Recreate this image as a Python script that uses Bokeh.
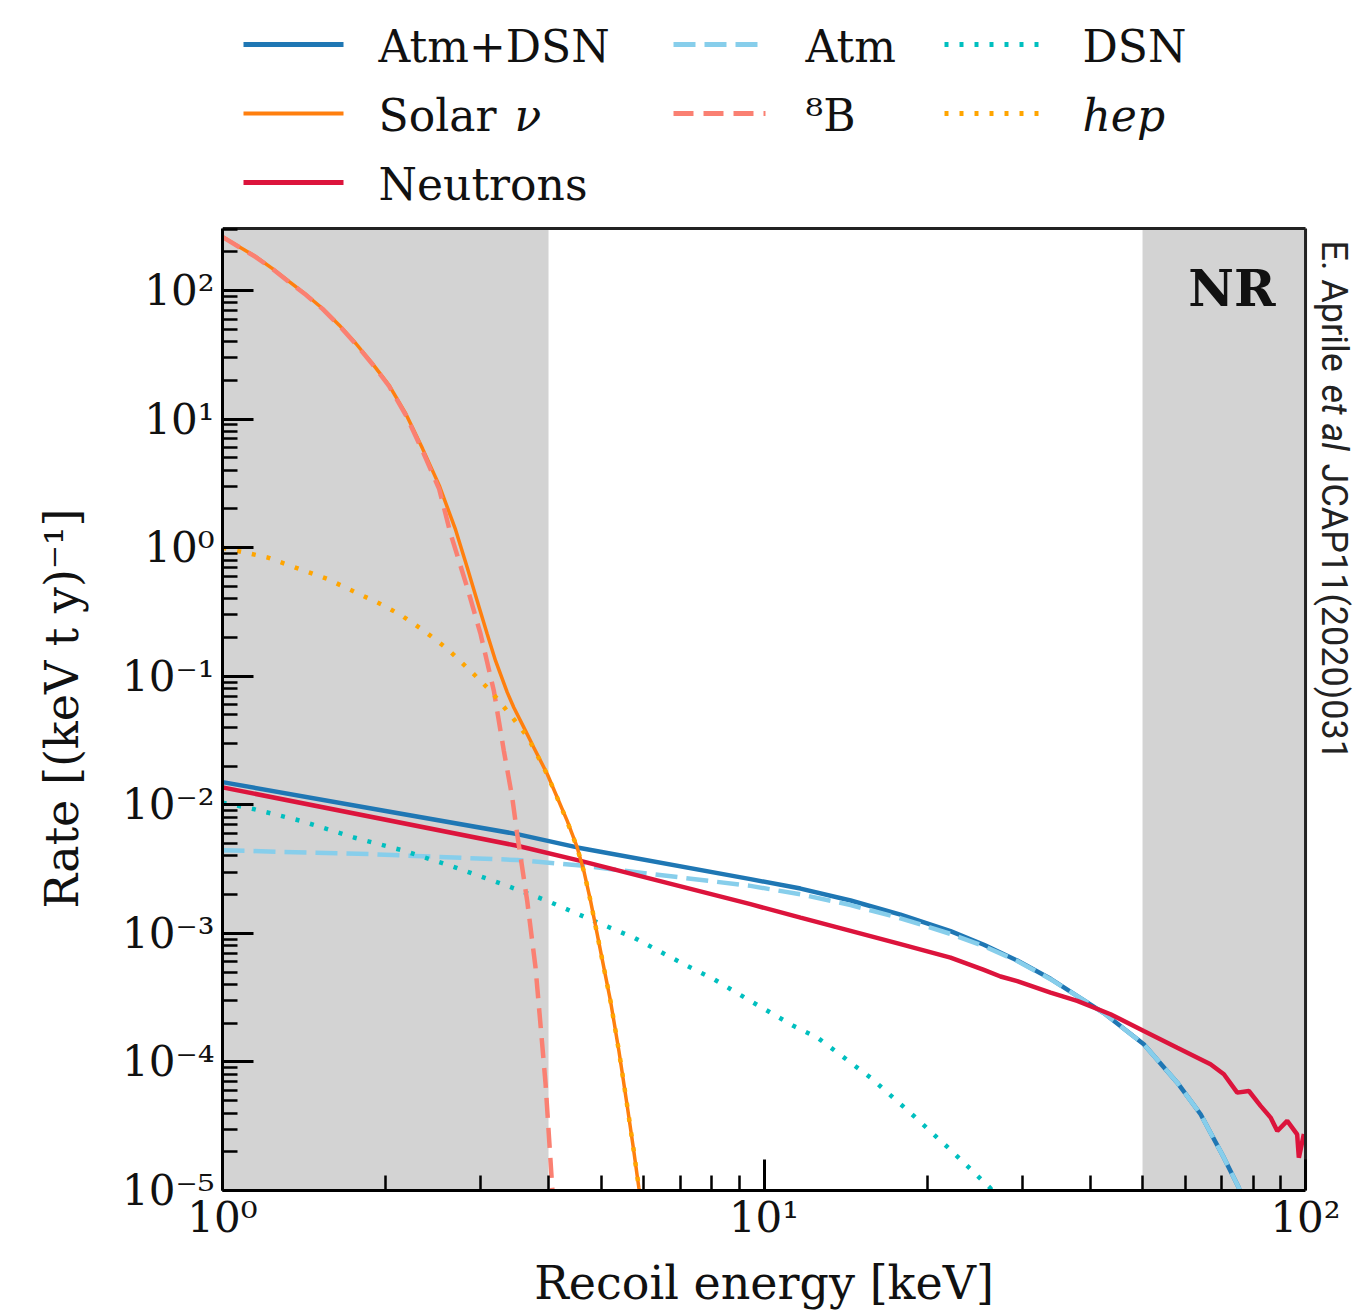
from bokeh.plotting import figure
from bokeh.models import Range1d, FixedTicker, CustomJSTickFormatter, Label, BoxAnnotation
from bokeh.layouts import column
from bokeh.embed import file_html
from bokeh.resources import INLINE
from bokeh.core.properties import value
import math

SERIF = "DejaVu Serif"
SANS = "Roboto"

# ---------------- data ----------------
E_solar = [1.0, 1.073, 1.152, 1.237, 1.328, 1.425, 1.530, 1.643, 1.763, 1.892, 2.031, 2.180,
           2.341, 2.513, 2.694, 2.830, 2.953, 3.082, 3.193, 3.356, 3.451, 3.601, 3.757, 3.978,
           4.151, 4.331, 4.519, 4.648, 4.783, 4.920, 5.061, 5.206, 5.395, 5.590, 5.741, 5.873, 5.92]
R_solar = [262, 219, 183, 148, 117, 93.1, 72.4, 53.7, 38.7, 27.0, 18.3, 11.0,
           5.89, 3.05, 1.38, 0.703, 0.387, 0.213, 0.132, 0.0748, 0.0571, 0.040, 0.0279, 0.01734,
           0.0114, 0.0075, 0.00466, 0.00306, 0.00179, 0.000986, 0.000542, 0.000298, 0.000122,
           4.55e-5, 2.1e-5, 1.05e-5, 8.7e-6]

E_8B = [1.0, 1.073, 1.152, 1.237, 1.328, 1.425, 1.530, 1.643, 1.763, 1.892, 2.031, 2.180,
        2.341, 2.513, 2.637, 2.830, 2.996, 3.170, 3.308, 3.428, 3.501, 3.653, 3.785, 3.894,
        3.950, 4.064, 4.08]
R_8B = [261, 218, 182, 147, 116, 92.5, 71.9, 53.2, 38.3, 26.7, 18.0, 10.75,
        5.66, 2.85, 1.285, 0.491, 0.213, 0.0771, 0.0263, 0.0114, 0.00591, 0.00179, 0.000542,
        0.000137, 6.75e-5, 1.05e-5, 8e-6]

E_hep = [1.0, 1.209, 1.561, 1.986, 2.132, 2.354, 2.601, 2.871, 3.125, 3.403, 3.653, 3.757,
         3.978, 4.151, 4.331, 4.519, 4.648, 4.783, 4.920, 5.061, 5.206, 5.395, 5.590, 5.741,
         5.873, 5.92]
R_hep = [1.0, 0.840, 0.571, 0.354, 0.30, 0.226, 0.163, 0.110, 0.077, 0.050, 0.034, 0.0274,
         0.0172, 0.0113, 0.0074, 0.00463, 0.00305, 0.00178, 0.00098, 0.00054, 0.000297,
         0.000122, 4.55e-5, 2.1e-5, 1.05e-5, 8.7e-6]

E_tot = [1.0, 2.0, 3.501, 4.519, 9.44, 11.68, 14.45, 17.87, 22.10, 25.47, 29.35, 33.82,
         42.42, 50.27, 57.97, 64.01, 70.67, 75.31, 76.5]
R_tot = [0.0150, 0.00896, 0.00591, 0.00466, 0.00264, 0.00223, 0.0018, 0.0014, 0.00104,
         0.000815, 0.000614, 0.000443, 0.00024, 0.000137, 6.9e-5, 3.92e-5, 1.80e-5, 1.05e-5, 8e-6]

E_atm = [1.0, 1.876, 3.501, 4.648, 9.44, 11.68, 14.45, 17.87, 22.10, 25.47, 29.35, 33.82,
         42.42, 50.27, 57.97, 64.01, 70.67, 75.31, 76.5]
R_atm = [0.00443, 0.00413, 0.00372, 0.00335, 0.00234, 0.00201, 0.00166, 0.00131, 0.00099,
         0.000795, 0.00061, 0.00044, 0.00024, 0.000137, 6.9e-5, 3.92e-5, 1.80e-5, 1.05e-5, 8e-6]

E_dsn = [1.0, 1.142, 1.393, 1.748, 2.162, 2.637, 3.356, 3.978, 4.850, 5.749, 7.112, 8.078,
         9.44, 11.35, 12.54, 15.73, 18.64, 22.10, 26.2, 26.74]
R_dsn = [0.0104, 0.00926, 0.00751, 0.00557, 0.00439, 0.00335, 0.00234, 0.00179, 0.00125,
         0.000927, 0.000575, 0.00044, 0.000298, 0.00019, 0.000155, 7.55e-5, 4.01e-5, 2.07e-5,
         1.04e-5, 8.9e-6]

E_neu = [1.0, 3.501, 4.583, 9.44, 11.68, 14.45, 17.87, 22.10, 25.47, 27.34, 29.35, 33.82,
         37.88, 43.64, 50.27, 57.97, 66.77, 70.67, 74.8, 78.6, 82.6, 86.2, 88.7, 92.5, 96.5,
         97.2, 99.3]
R_neu = [0.01365, 0.00480, 0.00366, 0.001686, 0.001327, 0.001045, 0.000824, 0.000648,
         0.00052, 0.000462, 0.000425, 0.000346, 0.000298, 0.000235, 0.000174, 0.000129,
         9.6e-5, 8.02e-5, 5.77e-5, 5.94e-5, 4.55e-5, 3.69e-5, 2.90e-5, 3.48e-5, 2.73e-5,
         1.80e-5, 2.75e-5]

shade_lo = [1, 50]
shade_hi = [4, 100]

X_MIN, X_MAX = 1, 100          # axes box
Y_MIN, Y_MAX = 1e-5, 303.7

x_major = [1, 10, 100]
x_minor = [2, 3, 4, 5, 6, 7, 8, 9, 20, 30, 40, 50, 60, 70, 80, 90]
y_major = [1e-5, 1e-4, 1e-3, 1e-2, 1e-1, 1, 10, 100]
y_minor = [k * 10.0 ** n for n in range(-5, 3) for k in range(2, 10)]

x_label = "Recoil energy [keV]"
y_label = "Rate [(keV t y)\u207b\u00b9]"
region_label = "NR"
attribution = [("E. Aprile", "normal"), ("et al", "italic"), ("JCAP11(2020)031", "normal")]

# series styles: (label, color, width, dash)
STY = {
    "tot": ("Atm+DSN", "#1f77b4", 4.5, "solid"),
    "atm": ("Atm", "#87ceeb", 4.5, "22 9"),
    "dsn": ("DSN", "#00bfbf", 4.5, "4 11"),
    "solar": ("Solar", "#ff7f0e", 3.5, "solid"),
    "b8": ("\u2078B", "#fa8072", 4.5, "20 10"),
    "hep": ("hep", "#ffa500", 4.5, "4 11"),
    "neu": ("Neutrons", "#dc143c", 4.5, "solid"),
}

W = 1356
LEFT = 222

# ---------------- main plot ----------------
# the frame runs on to the right page edge so the vertical credit line can be drawn inside it;
# the visible axes box (1..100) is drawn with bounded axes and two border segments.
p = figure(width=W, height=1024, x_axis_type="log", y_axis_type="log",
           x_range=Range1d(1, 124.2), y_range=Range1d(1e-5, 314.5),
           output_backend="svg", toolbar_location=None,
           min_border_left=LEFT, min_border_right=0, min_border_top=6, min_border_bottom=54)
p.grid.visible = False
p.outline_line_color = None

for lo, hi in zip(shade_lo, shade_hi):
    p.add_layout(BoxAnnotation(left=lo, right=hi, bottom=Y_MIN, top=Y_MAX, fill_color="#d3d3d3",
                               fill_alpha=1.0, line_color=None, level="underlay"))

def draw(key, E, R):
    lab, col, w, dash = STY[key]
    p.line(E, R, line_color=col, line_width=w, line_dash=dash)

draw("tot", E_tot, R_tot)
draw("atm", E_atm, R_atm)
draw("dsn", E_dsn, R_dsn)
draw("neu", E_neu, R_neu)
draw("solar", E_solar, R_solar)
draw("b8", E_8B, R_8B)
draw("hep", E_hep, R_hep)

# top and right borders of the axes box
p.segment(x0=[X_MIN, X_MAX], y0=[Y_MAX, Y_MIN], x1=[X_MAX, X_MAX], y1=[Y_MAX, Y_MAX],
          line_color="#222222", line_width=3)

fmt = CustomJSTickFormatter(code="""
const sup = {"0":"\u2070","1":"\u00b9","2":"\u00b2","3":"\u00b3","4":"\u2074","5":"\u2075",
             "6":"\u2076","7":"\u2077","8":"\u2078","9":"\u2079","-":"\u207b"};
const e = Math.round(Math.log10(tick));
return "10" + String(e).split("").map(c => sup[c]).join("");
""")

p.xaxis.ticker = FixedTicker(ticks=x_major, minor_ticks=x_minor)
p.yaxis.ticker = FixedTicker(ticks=y_major, minor_ticks=y_minor)
p.xaxis.bounds = (X_MIN, X_MAX)
p.yaxis.bounds = (Y_MIN, Y_MAX)
for ax in (p.xaxis[0], p.yaxis[0]):
    ax.formatter = fmt
    ax.axis_line_width = 3
    ax.axis_line_color = "black"
    ax.major_tick_in = 31
    ax.major_tick_out = 0
    ax.minor_tick_in = 15
    ax.minor_tick_out = 0
    ax.major_tick_line_width = 3
    ax.minor_tick_line_width = 2.5
    ax.major_tick_line_color = "black"
    ax.minor_tick_line_color = "black"
    ax.major_label_text_font = SERIF
    ax.major_label_text_font_size = "42px"
    ax.major_label_text_color = "#111111"
    ax.axis_label_text_font = SERIF
    ax.axis_label_text_font_size = "46px"
    ax.axis_label_text_font_style = "normal"
    ax.axis_label_text_color = "#111111"
p.yaxis.axis_label = y_label
p.xaxis.major_label_standoff = 2
p.yaxis.major_label_standoff = 8
p.yaxis.axis_label_standoff = 30

p.add_layout(Label(x=88.0, y=104.0, text=region_label, text_font=SERIF, text_font_style="bold",
                   text_font_size="50px", text_align="right", text_baseline="alphabetic",
                   text_color="#111111"))

# vertical credit line (inside the frame, right of x=100)
attr_x = 113.1
attr_y = [245.0, 18.56, 4.506]
for (txt, st), yy in zip(attribution, attr_y):
    p.text(x=[attr_x], y=[yy], text=[txt], angle=-math.pi / 2, text_font=value(SANS),
           text_font_size="36px", text_font_style=st, text_align="left",
           text_baseline="middle", text_color="#222222")

# ---------------- legend (above) ----------------
LH = 220
lg = figure(width=W, height=LH, x_range=Range1d(LEFT, W), y_range=Range1d(LH, 0),
            output_backend="svg", toolbar_location=None,
            min_border_left=LEFT, min_border_right=0, min_border_top=0, min_border_bottom=0,
            x_axis_location=None, y_axis_location=None)
lg.grid.visible = False
lg.outline_line_color = None

legend_rows = [["tot", "atm", "dsn"], ["solar", "b8", "hep"], ["neu"]]
col_line_x = [(243, 343), (673, 765), (944, 1040)]
col_text_x = [378, 805, 1082]
row_y = [44, 113, 182]
FS = "44px"

for r, keys in enumerate(legend_rows):
    for c, key in enumerate(keys):
        lab, col, w, dash = STY[key]
        x0, x1 = col_line_x[c]
        lg.line([x0, x1], [row_y[r], row_y[r]], line_color=col, line_width=w + 0.5, line_dash=dash)
        style = "italic" if key == "hep" else "normal"
        lg.text(x=[col_text_x[c]], y=[row_y[r] + 2], text=[lab], text_font=value(SERIF),
                text_font_size=FS, text_font_style=style, text_baseline="middle",
                text_color="#111111")
        if key == "solar":
            lg.text(x=[col_text_x[c] + 136], y=[row_y[r] + 2], text=["\u03bd"],
                    text_font=value(SERIF), text_font_size=FS, text_font_style="italic",
                    text_baseline="middle", text_color="#111111")

# ---------------- x-axis title (below), centred under the 1..100 box ----------------
BH = 68
bf = figure(width=W, height=BH, x_range=Range1d(LEFT, W), y_range=Range1d(BH, 0),
            output_backend="svg", toolbar_location=None,
            min_border_left=LEFT, min_border_right=0, min_border_top=0, min_border_bottom=0,
            x_axis_location=None, y_axis_location=None)
bf.grid.visible = False
bf.outline_line_color = None
bf.text(x=[763.5], y=[38], text=[x_label], text_font=value(SERIF), text_font_size="46px",
        text_align="center", text_baseline="middle", text_color="#111111")

layout = column(lg, p, bf)
open("out.html", "w").write(file_html(layout, INLINE))
